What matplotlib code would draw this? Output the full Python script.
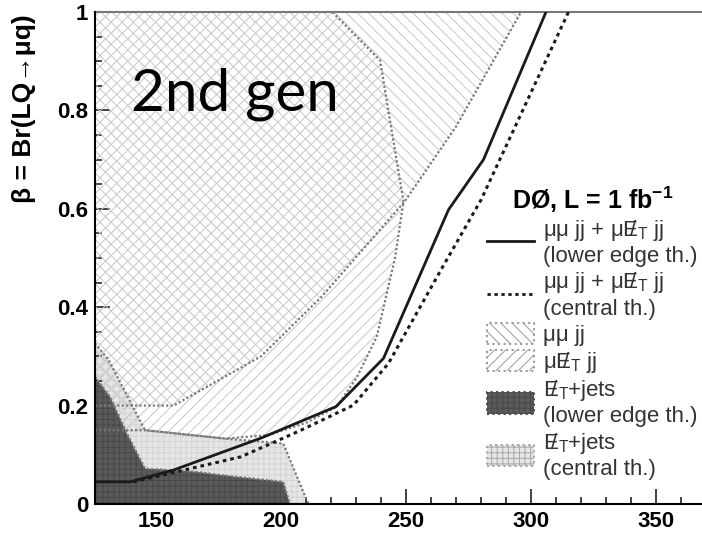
import numpy as np
import matplotlib
matplotlib.use("Agg")
import matplotlib.pyplot as plt
from matplotlib.lines import Line2D
from matplotlib.patches import Patch
from matplotlib.ticker import MultipleLocator, FuncFormatter

plt.rcParams['font.family'] = ['Liberation Sans', 'DejaVu Sans']
plt.rcParams['hatch.linewidth'] = 0.7
plt.rcParams['mathtext.fontset'] = 'custom'
plt.rcParams['mathtext.rm'] = 'Liberation Sans'
plt.rcParams['mathtext.bf'] = 'Liberation Sans:bold'

# axis range (leptoquark mass in GeV, beta)
xlims = (125.6, 368.4)
ylims = (0.0, 1.0)

# mu mu jj excluded region, lower/right boundary
mumu_m = [125.6, 157, 192, 216, 249.5, 270, 296]
mumu_b = [0.20, 0.20, 0.30, 0.42, 0.615, 0.767, 1.0]

# mu nu jj excluded region, lower/right boundary
munu_m = [125.6, 145.6, 177.6, 195, 210, 222.4, 230.4, 238.3, 245.6, 249, 239.6, 220.5]
munu_b = [0.15, 0.15, 0.133, 0.14, 0.165, 0.198, 0.258, 0.34, 0.50, 0.615, 0.902, 1.0]

# MET+jets, central theory
metc_m = [125.6, 131, 145.6, 177.6, 200.9, 210.3, 211]
metc_b = [0.327, 0.293, 0.15, 0.133, 0.123, 0.008, 0.0]

# MET+jets, lower edge theory
metl_m = [125.6, 131.6, 138.3, 145.6, 165, 175.6, 200.9, 203.6]
metl_b = [0.259, 0.218, 0.144, 0.072, 0.066, 0.059, 0.045, 0.0]

# combined limits
lower_m = [125.6, 139.6, 157, 192, 222, 241, 267, 281, 306]
lower_b = [0.045, 0.045, 0.069, 0.134, 0.198, 0.296, 0.598, 0.70, 1.0]
central_m = [141, 184, 208, 229, 243, 264, 280, 315]
central_b = [0.045, 0.096, 0.150, 0.201, 0.286, 0.476, 0.618, 1.0]

fig = plt.figure(figsize=(7.02, 5.33), dpi=100)
ax = fig.add_axes([95 / 702, 29 / 533, 607 / 702, 492 / 533])
ax.set_xlim(*xlims)
ax.set_ylim(*ylims)

bcol = '#7a7a7a'
bls = (0, (1, 1))
hcol = '#c6c6c6'

# MET+jets central (light grey, drawn below the hatches)
ax.fill(metc_m + [xlims[0]], metc_b + [ylims[0]], facecolor='#e6e6e6',
        edgecolor='#d4d4d4', hatch='+++', lw=0, zorder=1)
# mu mu jj
ax.fill(mumu_m + [xlims[0]], mumu_b + [ylims[1]], facecolor='none',
        edgecolor=hcol, hatch='\\\\\\', lw=0, zorder=2)
# mu nu jj
ax.fill(munu_m + [xlims[0]], munu_b + [ylims[1]], facecolor='none',
        edgecolor=hcol, hatch='///', lw=0, zorder=2)
# MET+jets lower edge (dark)
ax.fill(metl_m + [xlims[0]], metl_b + [ylims[0]], facecolor='#5a5a5a',
        edgecolor='#484848', hatch='+++', lw=0, zorder=3)

for m, b in [(mumu_m, mumu_b), (munu_m, munu_b), (metc_m, metc_b), (metl_m, metl_b)]:
    ax.plot(m, b, color=bcol, lw=1.6, ls=bls, zorder=4)

ax.plot(lower_m, lower_b, color='#1a1a1a', lw=2.0, zorder=5)
ax.plot(central_m, central_b, color='#1a1a1a', lw=2.2, ls=(0, (1.2, 1.3)), zorder=5)

# axes styling
for s in ['left', 'bottom']:
    ax.spines[s].set_linewidth(1.5)
    ax.spines[s].set_zorder(6)
ax.spines['top'].set_color('#777777')
ax.spines['top'].set_linewidth(1.5)
ax.spines['right'].set_visible(False)

ax.xaxis.set_major_locator(MultipleLocator(50))
ax.xaxis.set_minor_locator(MultipleLocator(10))
ax.yaxis.set_major_locator(MultipleLocator(0.2))
ax.yaxis.set_minor_locator(MultipleLocator(0.05))
ax.yaxis.set_major_formatter(FuncFormatter(lambda v, p: f'{v:g}'))
ax.tick_params(which='both', direction='in', top=False, right=False,
               labelsize=16, width=1.2, color='#222222')
ax.tick_params(which='major', length=11, pad=5)
ax.tick_params(which='minor', length=5)
for lab in ax.get_xticklabels() + ax.get_yticklabels():
    lab.set_fontweight('bold')

ax.set_ylabel('β = Br(LQ→μq)', fontsize=19, fontweight='bold', loc='top')
ax.yaxis.set_label_coords(-0.097, 0.995)

ax.text(140, 0.80, '2nd gen', fontsize=42, family='Lato', va='baseline', zorder=7)

# missing E_T: E with subscript T, slash drawn back over the E
met = r'$\mathrm{E}_{\mathrm{T}}\!\!\!\!\!/\enspace$'
handles = [
    Line2D([], [], color='#1a1a1a', lw=2.0),
    Line2D([], [], color='#1a1a1a', lw=2.0, ls=(0, (1.2, 1.3))),
    Patch(facecolor='white', edgecolor='#9a9a9a', hatch='\\\\\\', ls=':', lw=1.5),
    Patch(facecolor='white', edgecolor='#9a9a9a', hatch='///', ls=':', lw=1.5),
    Patch(facecolor='#5a5a5a', edgecolor='#484848', hatch='+++', ls=':', lw=1.5),
    Patch(facecolor='#e6e6e6', edgecolor='#a8a8a8', hatch='+++', ls=':', lw=1.5),
]
labels = [
    'μμ jj + μ' + met + ' jj\n(lower edge th.)',
    'μμ jj + μ' + met + ' jj\n(central th.)',
    'μμ jj',
    'μ' + met + ' jj',
    met + '+jets\n(lower edge th.)',
    met + '+jets\n(central th.)',
]
leg = ax.legend(handles, labels, loc='upper left', bbox_to_anchor=(0.646, 0.65),
                frameon=False, fontsize=16, borderpad=0, borderaxespad=0,
                handlelength=2.1, handleheight=1.1, handletextpad=0.42,
                labelspacing=0.15, title=r'DØ, L = 1 fb$^{\mathbf{-1}}$',
                title_fontproperties={'size': 18, 'weight': 'bold'})
for t in leg.get_texts():
    t.set_color('#333333')

fig.savefig('out.png', dpi=100)
